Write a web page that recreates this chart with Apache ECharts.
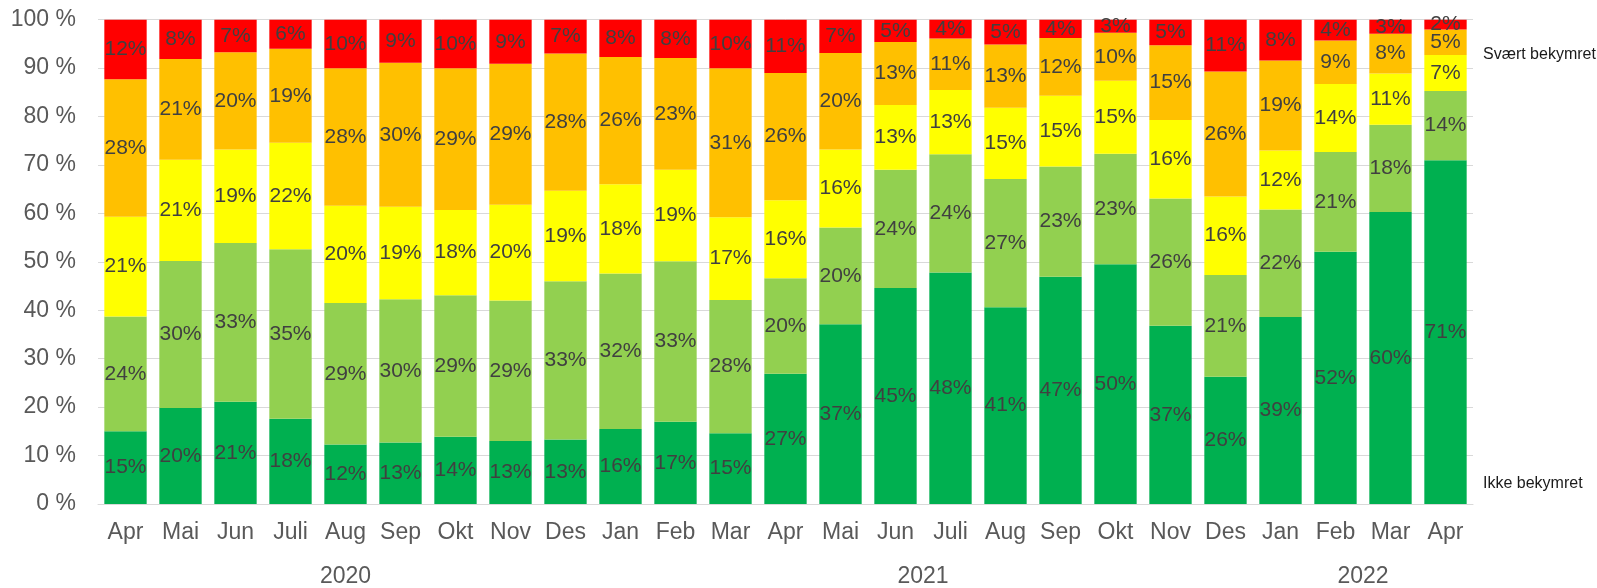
<!DOCTYPE html>
<html>
<head>
<meta charset="utf-8">
<script src="https://cdn.jsdelivr.net/npm/echarts@6/dist/echarts.min.js"></script>
<style>
  html, body { margin: 0; padding: 0; background: #fff; }
  #chart { width: 1597px; height: 588px; }
</style>
</head>
<body>
<div id="chart"></div>
<script>
const months = ['Apr','Mai','Jun','Juli','Aug','Sep','Okt','Nov','Des','Jan','Feb','Mar','Apr','Mai','Jun','Juli','Aug','Sep','Okt','Nov','Des','Jan','Feb','Mar','Apr'];
const years = [
  { text: '2020', first: 0, last: 8 },
  { text: '2021', first: 9, last: 20 },
  { text: '2022', first: 21, last: 24 }
];
const yTicks = [0, 10, 20, 30, 40, 50, 60, 70, 80, 90, 100];

const ikkeBekymret   = [15.0, 19.8, 21.1, 17.6, 12.3, 12.7, 13.9, 13.0, 13.3, 15.5, 17.0, 14.6, 26.9, 37.1, 44.6, 47.8, 40.6, 46.9, 49.5, 36.8, 26.3, 38.6, 52.1, 60.3, 71.0];
const liteBekymret   = [23.7, 30.4, 32.8, 35.0, 29.2, 29.6, 29.2, 29.0, 32.7, 32.1, 33.1, 27.5, 19.7, 20.0, 24.4, 24.4, 26.5, 22.8, 22.8, 26.3, 21.0, 22.2, 20.6, 18.0, 14.3];
const noeBekymret    = [20.6, 20.9, 19.3, 22.0, 20.1, 19.1, 17.6, 19.8, 18.7, 18.4, 18.9, 17.1, 16.1, 16.1, 13.4, 13.3, 14.7, 14.6, 15.1, 16.2, 16.2, 12.2, 14.0, 10.6, 7.4];
const ganskeBekymret = [28.4, 20.8, 20.1, 19.4, 28.4, 29.7, 29.3, 29.1, 28.3, 26.3, 23.1, 30.8, 26.3, 19.9, 13.0, 10.6, 13.1, 11.9, 9.9, 15.4, 25.8, 18.6, 9.0, 8.2, 5.3];
const svaertBekymret = [12.3, 8.1, 6.7, 6.0, 10.0, 8.9, 10.0, 9.1, 7.0, 7.7, 7.9, 10.0, 11.0, 6.9, 4.6, 3.9, 5.1, 3.8, 2.7, 5.3, 10.7, 8.4, 4.3, 2.9, 2.0];

const seriesDefs = [
  { name: 'Ikke bekymret', data: ikkeBekymret, color: '#00B050' },
  { name: 'Lite bekymret', data: liteBekymret, color: '#92D050' },
  { name: 'Noe bekymret', data: noeBekymret, color: '#FFFF00' },
  { name: 'Ganske bekymret', data: ganskeBekymret, color: '#FFC000' },
  { name: 'Svært bekymret', data: svaertBekymret, color: '#FF0000' }
];

const FONT = '"Liberation Sans", Arial, sans-serif';
const chart = echarts.init(document.getElementById('chart'), null, { renderer: 'canvas' });

const yearCenters = years.map(y => ({ text: y.text, pos: (y.first + y.last + 1) / 2 }));

const option = {
  animation: false,
  backgroundColor: '#ffffff',
  grid: { left: 98, right: 124, top: 19.7, bottom: 82.7, containLabel: false },
  xAxis: [
    {
      type: 'category',
      data: months,
      position: 'bottom',
      axisLine: { show: true, lineStyle: { color: '#D9D9D9', width: 1 } },
      axisTick: { show: false },
      axisLabel: { color: '#595959', fontSize: 23, fontFamily: FONT, margin: 17, interval: 0 },
      splitLine: { show: false }
    },
    {
      type: 'value',
      min: 0,
      max: months.length,
      interval: 0.5,
      position: 'bottom',
      offset: 44,
      axisLine: { show: false },
      axisTick: { show: false },
      splitLine: { show: false },
      axisLabel: {
        color: '#595959', fontSize: 23, fontFamily: FONT, margin: 17,
        showMinLabel: true, showMaxLabel: true,
        formatter: function (v) {
          const f = yearCenters.find(y => Math.abs(y.pos - v) < 1e-6);
          return f ? f.text : '';
        }
      }
    }
  ],
  yAxis: {
    type: 'value',
    min: 0,
    max: 100,
    interval: 10,
    axisLine: { show: false },
    axisTick: { show: false },
    axisLabel: { color: '#595959', fontSize: 23, fontFamily: FONT, margin: 22, formatter: '{value} %',
      customValues: yTicks },
    splitLine: { show: true, lineStyle: { color: '#D9D9D9', width: 1 } }
  },
  series: seriesDefs.map(s => ({
    name: s.name,
    type: 'bar',
    stack: 'total',
    xAxisIndex: 0,
    barCategoryGap: '23%',
    data: s.data,
    itemStyle: { color: s.color },
    label: {
      show: true,
      position: 'inside',
      color: '#404040',
      fontSize: 21,
      fontFamily: FONT,
      formatter: p => Math.round(p.value) + '%'
    }
  })),
  graphic: [
    { type: 'text', left: 1483, top: 47, style: { text: 'Svært bekymret', fill: '#1a1a1a', font: '16px ' + FONT } },
    { type: 'text', left: 1483, top: 476, style: { text: 'Ikke bekymret', fill: '#1a1a1a', font: '16px ' + FONT } }
  ]
};
chart.setOption(option);
</script>
</body>
</html>
